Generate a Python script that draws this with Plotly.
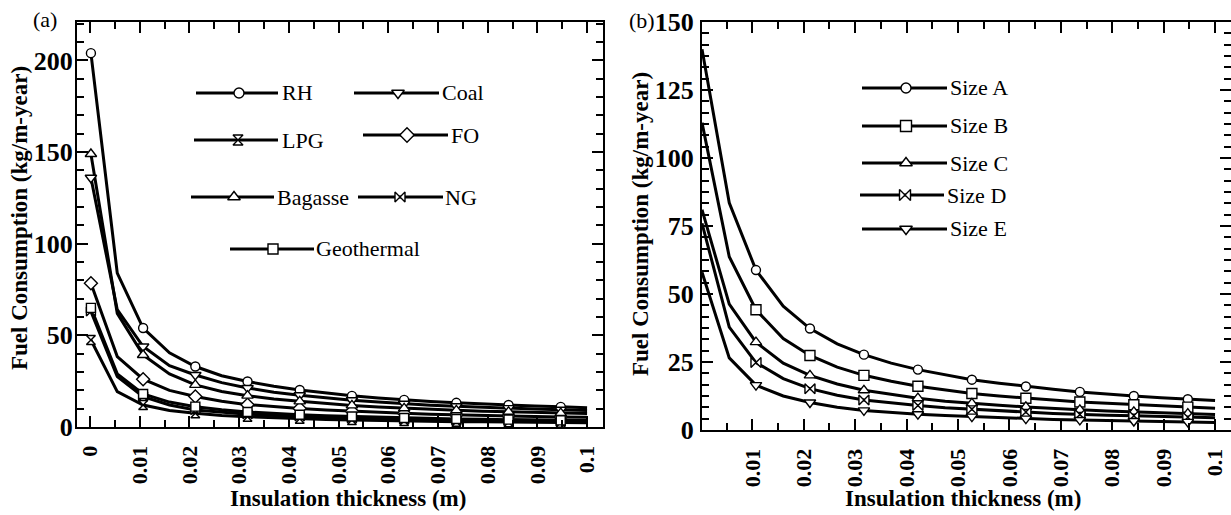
import plotly.graph_objects as go

# ---------------------------------------------------------------- data
thickness = [0.0002, 0.0055, 0.0107, 0.0160, 0.0212, 0.0265, 0.0317, 0.0370,
             0.0422, 0.0475, 0.0527, 0.0580, 0.0632, 0.0685, 0.0737, 0.0790,
             0.0842, 0.0895, 0.0947, 0.1000]

# (a) fuel types
rh = [204, 84, 54, 40.5, 33, 28, 24.8, 22.2, 20.2, 18.5,
      17.0, 15.8, 14.8, 13.9, 13.2, 12.5, 12.0, 11.4, 11.0, 10.5]
coal = [136, 64, 43.9, 33.5, 28.4, 24.2, 21.3, 19.0, 17.3, 15.9,
        14.6, 13.6, 12.7, 11.9, 11.3, 10.7, 10.3, 9.8, 9.4, 9.0]
lpg = [47.5, 19.3, 12.0, 9.0, 7.5, 6.3, 5.6, 5.0, 4.5, 4.1,
       3.8, 3.5, 3.3, 3.1, 2.9, 2.8, 2.6, 2.5, 2.4, 2.3]
fo = [78.5, 38.4, 26.1, 20.0, 16.6, 14.0, 12.2, 11.0, 10.1, 9.3,
      8.6, 8.0, 7.5, 7.0, 6.6, 6.3, 6.0, 5.7, 5.5, 5.3]
bagasse = [149, 62, 39.3, 29.0, 23.0, 19.4, 17.1, 15.3, 14.0, 12.8,
           11.8, 10.9, 10.2, 9.6, 9.1, 8.6, 8.3, 7.9, 7.6, 7.3]
ng = [63, 27.5, 16.6, 12.0, 9.3, 8.0, 7.0, 6.3, 5.7, 5.2,
      4.8, 4.4, 4.1, 3.9, 3.7, 3.5, 3.3, 3.2, 3.0, 2.9]
geothermal = [65, 29, 18.0, 13.6, 11.1, 9.4, 8.2, 7.3, 6.7, 6.1,
              5.7, 5.3, 4.9, 4.6, 4.4, 4.2, 4.0, 3.8, 3.6, 3.5]

# (b) pipe sizes
size_a = [140, 83.5, 58.8, 45.5, 37.3, 31.7, 27.7, 24.6, 22.2, 20.2,
          18.5, 17.2, 16.0, 15.0, 14.0, 13.2, 12.5, 11.9, 11.3, 10.8]
size_b = [113, 63.7, 44.2, 33.6, 27.4, 23.1, 20.1, 17.9, 16.1, 14.6,
          13.4, 12.5, 11.7, 11.0, 10.3, 9.8, 9.3, 8.8, 8.4, 8.0]
size_c = [81, 46.3, 32.3, 24.6, 20.1, 16.9, 14.6, 13.0, 11.7, 10.6,
          9.8, 9.1, 8.5, 7.9, 7.4, 7.0, 6.7, 6.3, 6.0, 5.7]
size_d = [76, 37.8, 24.8, 18.9, 15.2, 12.8, 11.0, 9.9, 9.0, 8.2,
          7.6, 7.1, 6.6, 6.1, 5.7, 5.4, 5.2, 4.9, 4.7, 4.5]
size_e = [58, 26.5, 16.5, 12.5, 10.1, 8.4, 7.2, 6.4, 5.8, 5.3,
          4.9, 4.5, 4.2, 3.9, 3.7, 3.5, 3.3, 3.1, 3.0, 2.8]

x_ticks_a = [0, 0.01, 0.02, 0.03, 0.04, 0.05, 0.06, 0.07, 0.08, 0.09, 0.1]
x_labels_a = ["0", "0.01", "0.02", "0.03", "0.04", "0.05", "0.06", "0.07",
              "0.08", "0.09", "0.1"]
x_ticks_b = x_ticks_a[1:]
x_labels_b = x_labels_a[1:]
y_ticks_a = [0, 50, 100, 150, 200]
y_ticks_b = [0, 25, 50, 75, 100, 125, 150]

# ---------------------------------------------------------------- styles
W, H = 1231, 515
SERIF = "Liberation Serif, Tinos, Times New Roman, DejaVu Serif, serif"
BLACK = "#000000"

fuel_series = [
    ("RH", rh, "circle", 9),
    ("Coal", coal, "triangle-down", 10),
    ("LPG", lpg, "hourglass", 9),
    ("FO", fo, "diamond", 10),
    ("Bagasse", bagasse, "triangle-up", 10),
    ("NG", ng, "bowtie", 9),
    ("Geothermal", geothermal, "square", 9),
]
size_series = [
    ("Size A", size_a, "circle", 9),
    ("Size B", size_b, "square", 10),
    ("Size C", size_c, "triangle-up", 10),
    ("Size D", size_d, "bowtie", 10),
    ("Size E", size_e, "triangle-down", 10),
]

# legend key layout in pixels: (name, line x0, line x1, marker x, text x, y)
fuel_keys = [
    ("RH", 196, 278, 239, 280, 93),
    ("Coal", 354, 439, 398, 440, 93),
    ("LPG", 194, 278, 238, 280, 140),
    ("FO", 363, 448, 407, 449, 135),
    ("Bagasse", 191, 274, 234, 275, 197),
    ("NG", 358, 443, 400, 443, 197),
    ("Geothermal", 230, 314, 273, 314, 249),
]
size_keys = [
    ("Size A", 862, 947, 906, 948, 88),
    ("Size B", 862, 947, 906, 948, 126),
    ("Size C", 862, 947, 906, 948, 163),
    ("Size D", 860, 944, 905, 945, 195),
    ("Size E", 862, 947, 906, 948, 229),
]

fig = go.Figure()


def add_panel(series, xa, ya, marker_idx):
    # connecting lines first, so every marker sits on top of every line
    for name, ys, sym, sz in series:
        fig.add_trace(go.Scatter(
            x=thickness, y=ys, mode="lines", xaxis=xa, yaxis=ya,
            line=dict(color=BLACK, width=3), showlegend=False,
            hoverinfo="skip"))
    for name, ys, sym, sz in series:
        fig.add_trace(go.Scatter(
            x=[thickness[i] for i in marker_idx],
            y=[ys[i] for i in marker_idx],
            mode="markers", xaxis=xa, yaxis=ya, name=name,
            marker=dict(symbol=sym, size=sz, color="white",
                        line=dict(color=BLACK, width=1.4)),
            showlegend=False))


add_panel(fuel_series, "x", "y", list(range(0, 19, 2)))
add_panel(size_series, "x2", "y2", list(range(2, 19, 2)))

# hand-laid legend keys on a full-page overlay axis (pixel units)
for keys, series in ((fuel_keys, fuel_series), (size_keys, size_series)):
    styles = {name: (sym, sz) for name, _, sym, sz in series}
    for name, x0, x1, xm, xt, yk in keys:
        sym, sz = styles[name]
        fig.add_trace(go.Scatter(
            x=[x0, x1], y=[yk, yk], mode="lines", xaxis="x3", yaxis="y3",
            line=dict(color=BLACK, width=3), showlegend=False,
            hoverinfo="skip"))
        fig.add_trace(go.Scatter(
            x=[xm], y=[yk], mode="markers", xaxis="x3", yaxis="y3",
            marker=dict(symbol=sym, size=sz + 1, color="white",
                        line=dict(color=BLACK, width=1.4)),
            showlegend=False, hoverinfo="skip"))
        fig.add_annotation(
            x=xt / W, y=1 - yk / H, xref="paper", yref="paper",
            text=name, showarrow=False, xanchor="left", yanchor="middle",
            font=dict(family=SERIF, size=22, color=BLACK))

tickfont_y = dict(family=SERIF, size=26, color=BLACK, weight="bold")
tickfont_x = dict(family=SERIF, size=22, color=BLACK, weight="bold")

common_x = dict(
    showline=True, linewidth=2, linecolor=BLACK, mirror="allticks",
    ticks="inside", ticklen=11, tickwidth=1.5, tickcolor=BLACK,
    tickangle=-90, tickfont=tickfont_x, showgrid=False, zeroline=False,
    tickmode="array", ticklabelstandoff=8, automargin=False,
    minor=dict(ticks="inside", ticklen=7, tickwidth=1.5, tickcolor=BLACK,
               tickmode="linear", tick0=0, dtick=0.005, showgrid=False),
)
common_y = dict(
    showline=True, linewidth=2, linecolor=BLACK, mirror="allticks",
    ticks="inside", ticklen=11, tickwidth=1.5, tickcolor=BLACK,
    tickfont=tickfont_y, showgrid=False, zeroline=False, tickmode="array",
    automargin=False,
)

fig.update_layout(
    width=W, height=H, margin=dict(l=0, r=0, t=0, b=0, pad=0),
    autosize=False,
    paper_bgcolor="white", plot_bgcolor="rgba(0,0,0,0)",
    showlegend=False,
    xaxis=dict(common_x, domain=[77 / W, 603 / W], range=[-0.0026, 0.1032],
               tickvals=x_ticks_a, ticktext=x_labels_a, anchor="y"),
    yaxis=dict(common_y, domain=[1 - 427 / H, 1 - 22 / H], range=[0, 221],
               tickvals=y_ticks_a, anchor="x", ticklabelstandoff=-3,
               minor=dict(ticks="inside", ticklen=7, tickwidth=1.5,
                          tickcolor=BLACK, tickmode="linear", tick0=0,
                          dtick=10, showgrid=False)),
    xaxis2=dict(common_x, domain=[702 / W, 1.0], range=[0.0002, 0.1031],
                tickvals=x_ticks_b, ticktext=x_labels_b, anchor="y2"),
    yaxis2=dict(common_y, domain=[1 - 430 / H, 1 - 22 / H], range=[0, 150],
                tickvals=y_ticks_b, anchor="x2", ticklabelstandoff=1,
                minor=dict(ticks="inside", ticklen=7, tickwidth=1.5,
                           tickcolor=BLACK, tickmode="linear", tick0=0,
                           dtick=25 / 6, showgrid=False)),
    xaxis3=dict(domain=[0, 1], range=[0, W], visible=False, anchor="y3",
                fixedrange=True, automargin=False),
    yaxis3=dict(domain=[0, 1], range=[H, 0], visible=False, anchor="x3",
                fixedrange=True, automargin=False),
)

# axis titles and panel labels
title_font = dict(family=SERIF, size=23, color=BLACK, weight="bold")
for xc in (348, 963):
    fig.add_annotation(x=xc / W, y=1 - 498 / H, xref="paper", yref="paper",
                       text="Insulation thickness (m)", showarrow=False,
                       xanchor="center", yanchor="middle", font=title_font)
for xc, yc in ((19, 218), (641, 224)):
    fig.add_annotation(x=xc / W, y=1 - yc / H, xref="paper", yref="paper",
                       text="Fuel Consumption (kg/m-year)", textangle=-90,
                       showarrow=False, xanchor="center", yanchor="middle",
                       font=title_font)
for txt, xc, yc in (("(a)", 45, 19), ("(b)", 642, 21)):
    fig.add_annotation(x=xc / W, y=1 - yc / H, xref="paper", yref="paper",
                       text=txt, showarrow=False, xanchor="center",
                       yanchor="middle",
                       font=dict(family=SERIF, size=22, color=BLACK))

fig.write_html("out.html")
